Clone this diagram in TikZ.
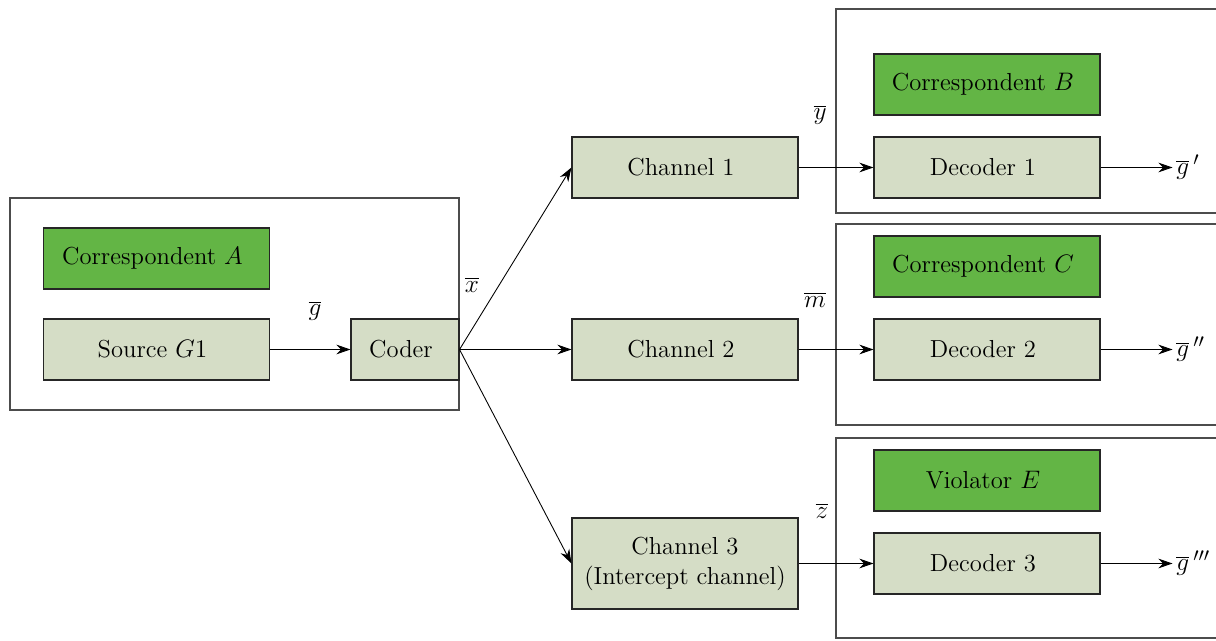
\documentclass[tikz,border=0pt]{standalone}
\usetikzlibrary{arrows.meta}
\usepackage{xcolor}

\definecolor{sage}{RGB}{213,221,198}
\definecolor{leafgreen}{RGB}{99,181,69}

\begin{document}
\begin{tikzpicture}[every node/.style={
    rectangle,
    inner sep=2pt,
    font=\fontsize{14}{17}\selectfont
},
block/.style={draw=black!85, line width=0.6pt, fill=sage, minimum width=4.52cm, minimum height=1.22cm, align=center},
party/.style={block, fill=leafgreen},
frame/.style={draw=black!70, line width=0.6pt, inner sep=0pt},
sign/.style={font=\fontsize{15}{18}\selectfont},
link/.style={-{Stealth[length=8pt,width=5.5pt]}, black, line width=0.5pt}
]

    \clip (0, 0) rectangle (24.32, 12.82);



    \node (frame_A) [frame, minimum width=8.98cm, minimum height=4.24cm, shift={(4.69, 6.74)}] {};
    \node (frame_B) [frame, minimum width=8.2cm, minimum height=4.08cm, shift={(20.82, 10.6)}] {};
    \node (frame_C) [frame, minimum width=8.2cm, minimum height=4.02cm, shift={(20.82, 6.33)}] {};
    \node (frame_E) [frame, minimum width=8.2cm, minimum height=4.0cm, shift={(20.82, 2.06)}] {};



    \node (correspondent_A) [party, shift={(3.13, 7.65)}]
    {
        Correspondent $A$
    };

    \node (source_G1) [block, shift={(3.13, 5.83)}]
    {
        Source $G1$
    };

    \node (coder) [block, minimum width=2.16cm, shift={(8.1, 5.83)}]
    {
        Coder
    };



    \node (channel_1) [block, shift={(13.7, 9.47)}]
    {
        Channel 1
    };

    \node (channel_2) [block, shift={(13.7, 5.83)}]
    {
        Channel 2
    };

    \node (channel_3) [block, minimum height=1.82cm, shift={(13.7, 1.55)}]
    {
        Channel 3\\(Intercept channel)
    };



    \node (correspondent_B) [party, shift={(19.74, 11.13)}]
    {
        Correspondent $B$
    };

    \node (decoder_1) [block, shift={(19.74, 9.47)}]
    {
        Decoder 1
    };

    \node (correspondent_C) [party, shift={(19.74, 7.49)}]
    {
        Correspondent $C$
    };

    \node (decoder_2) [block, shift={(19.74, 5.83)}]
    {
        Decoder 2
    };

    \node (violator_E) [party, shift={(19.74, 3.21)}]
    {
        Violator $E$
    };

    \node (decoder_3) [block, shift={(19.74, 1.55)}]
    {
        Decoder 3
    };



    \node (label_g) [sign, shift={(6.3, 6.6)}] {$\overline{g}$};
    \node (label_x) [sign, shift={(9.44, 7.12)}] {$\overline{x}$};
    \node (label_y) [sign, shift={(16.4, 10.52)}] {$\overline{y}$};
    \node (label_m) [sign, shift={(16.3, 6.82)}] {$\overline{m}$};
    \node (label_z) [sign, shift={(16.44, 2.6)}] {$\overline{z}$};

    \node (out_1) [sign, anchor=west, shift={(23.45, 9.47)}] {$\overline{g}\,'$};
    \node (out_2) [sign, anchor=west, shift={(23.45, 5.83)}] {$\overline{g}\,''$};
    \node (out_3) [sign, anchor=west, shift={(23.45, 1.55)}] {$\overline{g}\,'''$};


    \draw[link] (source_G1) to (coder);
    \draw[link] (coder.east) to (channel_1.west);
    \draw[link] (coder.east) to (channel_2.west);
    \draw[link] (coder.east) to (channel_3.west);

    \draw[link] (channel_1) to (decoder_1);
    \draw[link] (channel_2) to (decoder_2);
    \draw[link] (channel_3) to (decoder_3);

    \draw[link] (decoder_1) to (out_1.west);
    \draw[link] (decoder_2) to (out_2.west);
    \draw[link] (decoder_3) to (out_3.west);


\end{tikzpicture}
\end{document}
